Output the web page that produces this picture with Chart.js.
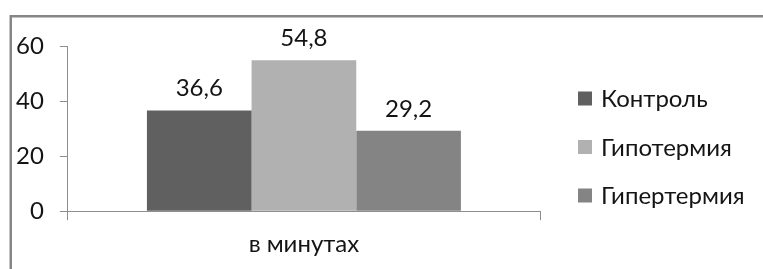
<!DOCTYPE html>
<html>
<head>
<meta charset="utf-8">
<script src="https://cdn.jsdelivr.net/npm/chart.js@4.4.1/dist/chart.umd.min.js"></script>
<style>
    html, body { margin: 0; padding: 0; background: #fff; }
    #chart-box { width: 763px; height: 269px; position: relative; }
</style>
</head>
<body>
<div id="chart-box"><canvas id="time-chart"></canvas></div>
<script>
// Данные диаграммы
const categories = ['в минутах'];
const seriesNames = ['Контроль', 'Гипотермия', 'Гипертермия'];
const controlValues = [36.6];
const hypothermiaValues = [54.8];
const hyperthermiaValues = [29.2];
const yTickValues = [0, 20, 40, 60];

const FONT = 'Lato, "Liberation Sans", sans-serif';
const TEXT_COLOR = '#141414';
const AXIS_COLOR = '#8e8e8e';

// Рамка вокруг диаграммы (видны только верх и левая сторона)
const framePlugin = {
    id: 'frame',
    beforeDraw(chart) {
        const ctx = chart.ctx;
        ctx.save();
        ctx.fillStyle = '#fff';
        ctx.fillRect(0, 0, chart.width, chart.height);
        ctx.strokeStyle = '#868686';
        ctx.lineWidth = 2.5;
        ctx.beginPath();
        ctx.moveTo(10.75, chart.height);
        ctx.lineTo(10.75, 16.25);
        ctx.lineTo(chart.width, 16.25);
        ctx.stroke();
        ctx.restore();
    }
};

// Подписи значений над столбиками
const valueLabelsPlugin = {
    id: 'valueLabels',
    afterDatasetsDraw(chart) {
        const ctx = chart.ctx;
        ctx.save();
        ctx.font = '24px ' + FONT;
        ctx.fillStyle = TEXT_COLOR;
        ctx.textAlign = 'center';
        ctx.textBaseline = 'alphabetic';
        chart.data.datasets.forEach((dataset, i) => {
            const meta = chart.getDatasetMeta(i);
            meta.data.forEach((bar, j) => {
                const text = String(dataset.data[j]).replace('.', ',');
                ctx.fillText(text, bar.x, bar.y - 14);
            });
        });
        ctx.restore();
    }
};

// Легенда справа
const sideLegendPlugin = {
    id: 'sideLegend',
    afterDraw(chart) {
        const ctx = chart.ctx;
        const boxSize = 14;
        const left = chart.chartArea.right + 38;
        const firstY = 98.5;
        const step = 48.5;
        ctx.save();
        ctx.font = '24px ' + FONT;
        ctx.textBaseline = 'middle';
        ctx.textAlign = 'left';
        chart.data.datasets.forEach((dataset, i) => {
            const cy = firstY + i * step;
            ctx.fillStyle = dataset.backgroundColor;
            ctx.fillRect(left, cy - boxSize / 2, boxSize, boxSize);
            ctx.fillStyle = TEXT_COLOR;
            ctx.fillText(dataset.label, left + boxSize + 9, cy + 1);
        });
        ctx.restore();
    }
};

function buildDatasets() {
    const values = [controlValues, hypothermiaValues, hyperthermiaValues];
    const colors = ['#606060', '#b1b1b1', '#848484'];
    return seriesNames.map((name, i) => ({
        label: name,
        data: values[i],
        backgroundColor: colors[i],
        borderWidth: 0,
        categoryPercentage: 0.665,
        barPercentage: 1
    }));
}

function initTimeChart() {
    const ctx = document.getElementById('time-chart').getContext('2d');
    window.timeChart = new Chart(ctx, {
        type: 'bar',
        data: {
            labels: categories,
            datasets: buildDatasets()
        },
        options: {
            responsive: true,
            maintainAspectRatio: false,
            animation: false,
            layout: {
                padding: { top: 46, left: 0, right: 223, bottom: 0 }
            },
            scales: {
                x: {
                    grid: {
                        offset: true,
                        drawOnChartArea: false,
                        drawTicks: true,
                        tickLength: 9,
                        color: AXIS_COLOR
                    },
                    border: { display: true, color: AXIS_COLOR, width: 1 },
                    ticks: {
                        color: TEXT_COLOR,
                        padding: 10,
                        font: { family: FONT, size: 24 }
                    }
                },
                y: {
                    min: 0,
                    max: 60,
                    afterBuildTicks(scale) {
                        scale.ticks = yTickValues.map(v => ({ value: v }));
                    },
                    grid: {
                        drawOnChartArea: false,
                        drawTicks: true,
                        tickLength: 8,
                        color: AXIS_COLOR
                    },
                    border: { display: true, color: AXIS_COLOR, width: 1 },
                    ticks: {
                        color: TEXT_COLOR,
                        padding: 16,
                        font: { family: FONT, size: 24 }
                    }
                }
            },
            plugins: {
                legend: { display: false },
                tooltip: { enabled: false }
            }
        },
        plugins: [framePlugin, valueLabelsPlugin, sideLegendPlugin]
    });
}

initTimeChart();
</script>
</body>
</html>
